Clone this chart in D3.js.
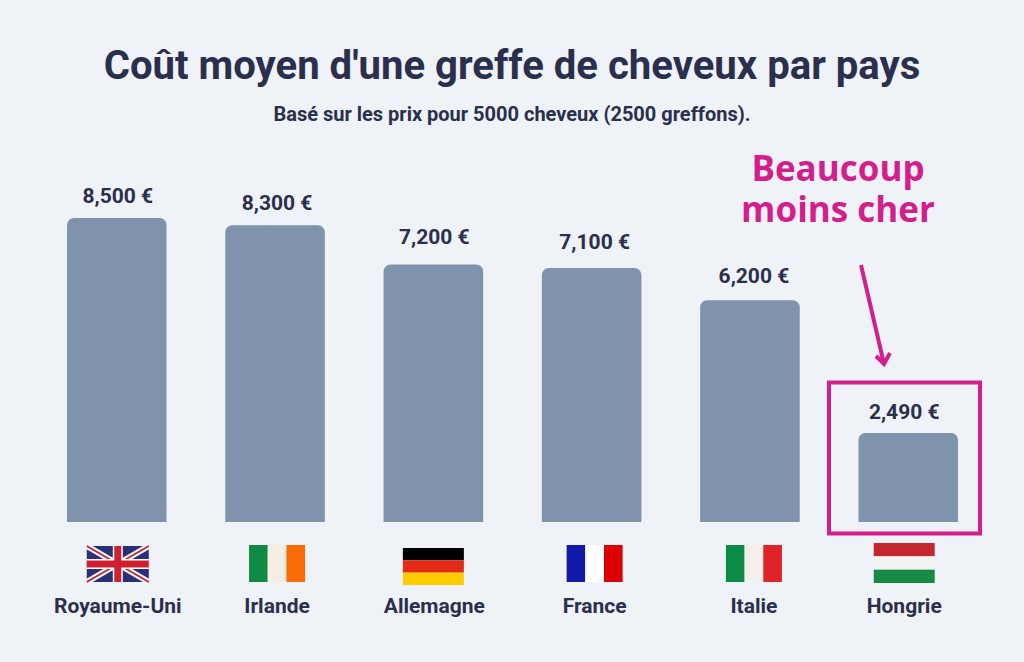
<!DOCTYPE html>
<html>
<head>
<meta charset="utf-8">
<script src="https://cdn.jsdelivr.net/npm/d3@7"></script>
<style>
  html, body { margin: 0; padding: 0; background: #eff2f6; }
  svg { display: block; }
  text { font-family: Roboto, sans-serif; font-weight: 700; fill: #2a2f4d; text-anchor: middle; }
</style>
</head>
<body>
<script>
var width = 1024,
  height = 662;

var pays = ["Royaume-Uni", "Irlande", "Allemagne", "France", "Italie", "Hongrie"];
var couts = [8500, 8300, 7200, 7100, 6200, 2490];
var etiquettes = ["8,500 €", "8,300 €", "7,200 €", "7,100 €", "6,200 €", "2,490 €"];
// couleurs des bandes de chaque drapeau (le Royaume-Uni est dessine a part)
var drapeaux = [
  [],
  ["#0f8a42", "#f3ede4", "#f96b06"],
  ["#000000", "#e32a16", "#ffcc00"],
  ["#1119a8", "#ffffff", "#dd0000"],
  ["#0c8a47", "#f5f0ea", "#de2428"],
  ["#c4282f", "#f2f2f0", "#178a46"]
];

var bas = 522;
var x = d3.scaleBand().domain(pays).range([67, 958]).paddingInner(0.371).paddingOuter(0);
var y = d3.scaleLinear().domain([0, 8500]).range([bas, 218]);

// les noms et drapeaux ne sont pas tout a fait centres sur les barres
var decalage = d3.scaleOrdinal().domain(pays).range([1, 2, 1, 3, 4, -4]);
var centre = function (p) { return x(p) + x.bandwidth() / 2 + decalage(p); };
// ecart entre le haut de la barre et son etiquette
var ecart = d3.scaleOrdinal().domain(pays).range([15, 15, 20, 19, 17, 14]);

var svg = d3.select("body").append("svg")
  .attr("width", width)
  .attr("height", height);

svg.append("rect").attr("width", width).attr("height", height).attr("fill", "#eff2f6");

svg.append("text")
  .attr("x", 512).attr("y", 79)
  .style("font-size", "40.1px")
  .text("Coût moyen d'une greffe de cheveux par pays");

svg.append("text")
  .attr("x", 512).attr("y", 121)
  .style("font-size", "20px")
  .text("Basé sur les prix pour 5000 cheveux (2500 greffons).");

// barres, coins arrondis en haut seulement
var r = 7;
svg.append("g").selectAll("path")
  .data(couts)
  .enter().append("path")
  .attr("fill", "#7f93ac")
  .attr("d", function (d, i) {
    var p = d3.path(), x0 = x(pays[i]), x1 = x0 + x.bandwidth(), t = y(d);
    p.moveTo(x0, bas);
    p.lineTo(x0, t + r);
    p.arcTo(x0, t, x0 + r, t, r);
    p.lineTo(x1 - r, t);
    p.arcTo(x1, t, x1, t + r, r);
    p.lineTo(x1, bas);
    p.closePath();
    return p.toString();
  });

svg.append("g").selectAll("text")
  .data(couts)
  .enter().append("text")
  .attr("x", function (d, i) { return centre(pays[i]); })
  .attr("y", function (d, i) { return y(d) - ecart(pays[i]); })
  .style("font-size", "21px")
  .text(function (d, i) { return etiquettes[i]; });

svg.append("g").selectAll("text")
  .data(pays)
  .enter().append("text")
  .attr("x", centre)
  .attr("y", 612.5)
  .style("font-size", "21px")
  .text(function (d) { return d; });

// drapeaux a bandes
var haut = d3.scaleOrdinal().domain(pays).range([546, 545, 548, 545, 545, 543]);
var horizontal = function (i) { return pays[i] === "Allemagne" || pays[i] === "Hongrie"; };

var flags = svg.append("g").selectAll("g")
  .data(pays)
  .enter().append("g")
  .attr("transform", function (d) { return "translate(" + (centre(d) - (d === "Allemagne" ? 1 : 0)) + "," + haut(d) + ")"; });

flags.each(function (d, i) {
  var g = d3.select(this);
  var n = drapeaux[i].length;
  if (!n) return;
  if (horizontal(i)) {
    var hy = pays[i] === "Hongrie" ? 40 : 37;
    var by = d3.scaleBand().domain(d3.range(n)).range([0, hy]);
    g.selectAll("rect").data(drapeaux[i]).enter().append("rect")
      .attr("x", -30.5).attr("width", 61)
      .attr("y", function (c, j) { return by(j); })
      .attr("height", by.bandwidth())
      .attr("fill", function (c) { return c; });
  } else {
    var bx = d3.scaleBand().domain(d3.range(n)).range([-28, 28]);
    g.selectAll("rect").data(drapeaux[i]).enter().append("rect")
      .attr("y", 0).attr("height", 37)
      .attr("x", function (c, j) { return bx(j); })
      .attr("width", bx.bandwidth())
      .attr("fill", function (c) { return c; });
  }
});

// Union Jack
var uk = flags.filter(function (d) { return d === "Royaume-Uni"; });
uk.append("rect").attr("x", -31).attr("y", 0).attr("width", 62).attr("height", 36).attr("fill", "#2b2f77");
uk.append("path").attr("d", "M-31,0L31,36M31,0L-31,36").attr("stroke", "#ffffff").attr("stroke-width", 6);
uk.append("path").attr("d", "M-31,0L31,36M31,0L-31,36").attr("stroke", "#cf2030").attr("stroke-width", 2);
uk.append("path").attr("d", "M0,0V36M-31,18H31").attr("stroke", "#ffffff").attr("stroke-width", 10);
uk.append("path").attr("d", "M0,0V36M-31,18H31").attr("stroke", "#cf2030").attr("stroke-width", 7);

// annotation
var rose = "#d21f8c";
svg.append("rect")
  .attr("x", 829).attr("y", 382.5)
  .attr("width", 151).attr("height", 151)
  .attr("fill", "none")
  .attr("stroke", rose)
  .attr("stroke-width", 4);

svg.append("text")
  .style("font-family", "'Open Sans', sans-serif")
  .style("font-size", "35px")
  .style("fill", rose)
  .selectAll("tspan")
  .data(["Beaucoup", "moins cher"])
  .enter().append("tspan")
  .attr("x", 838)
  .attr("y", function (d, i) { return 181 + i * 41; })
  .text(function (d) { return d; });

svg.append("path")
  .attr("d", "M861,265L884,364M876,356L884,364L890,353")
  .attr("fill", "none")
  .attr("stroke", rose)
  .attr("stroke-width", 4);
</script>
</body>
</html>
